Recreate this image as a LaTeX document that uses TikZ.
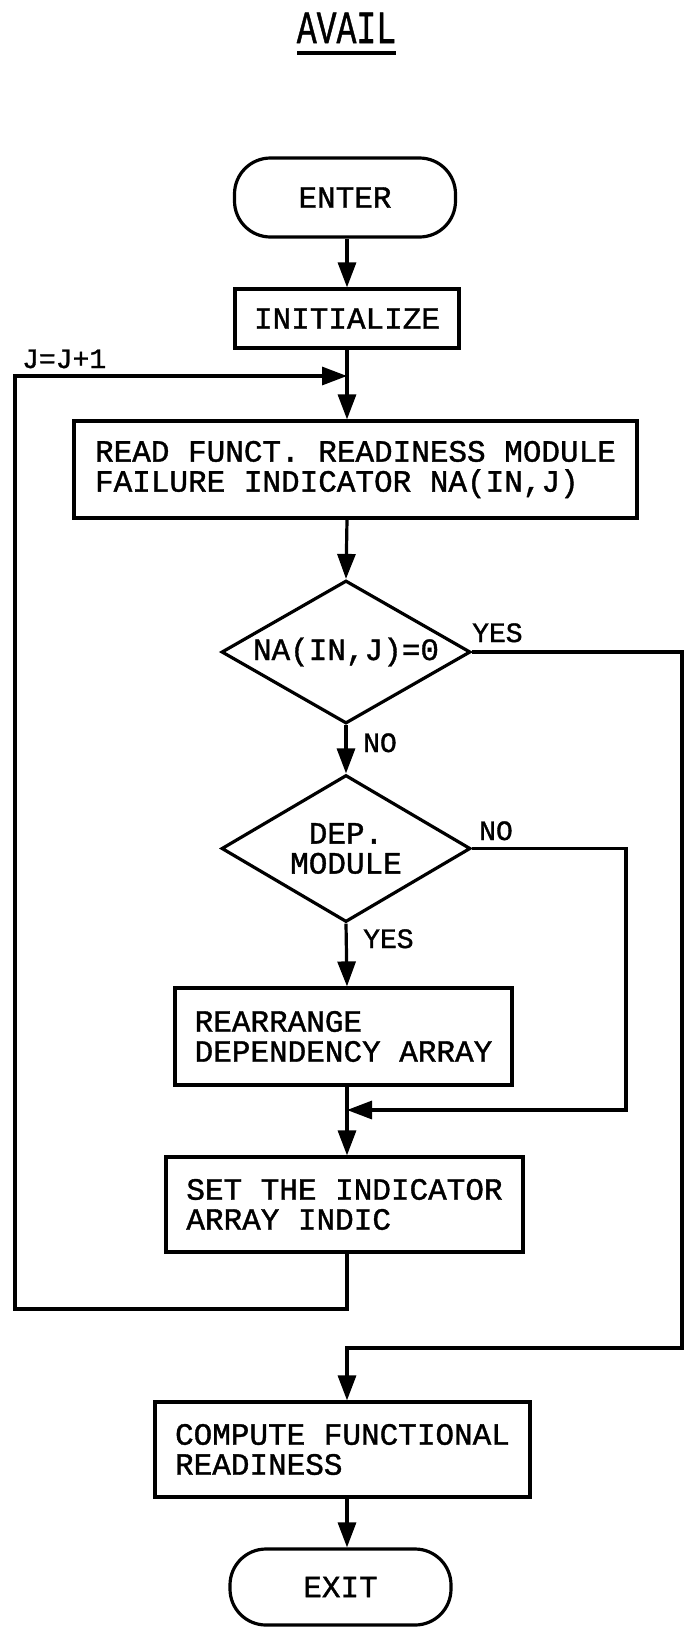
\documentclass[tikz,border=0pt]{standalone}
\usepackage{fontspec}
\newfontfamily\monof[FakeBold=1.2]{Liberation Mono}
\usetikzlibrary{shapes.geometric,arrows.meta}
\newcommand\boxfont{\monof\fontsize{31}{30}\selectfont}
\newcommand\lblfont{\monof\fontsize{28}{28}\selectfont}
\newcommand\titlefont{\monof\fontsize{46}{46}\selectfont}
\begin{document}
\begin{tikzpicture}[x=1pt,y=-1pt,
  ln/.style={line width=3.2pt},
  proc/.style={draw,ln,rectangle,inner sep=0pt,align=left,font=\boxfont},
  term/.style={draw,ln,rectangle,rounded corners=36pt,inner sep=0pt,font=\boxfont},
  dec/.style={draw,ln,diamond,shape aspect=1.74,inner sep=0pt,align=center,font=\boxfont},
  lbl/.style={font=\lblfont,inner sep=0pt,anchor=base west},
  arr/.style={ln,-{Triangle[length=25pt,width=18pt]}}]
\useasboundingbox (0,0) rectangle (686,1628);
\fill[white] (0,0) rectangle (686,1628);
\coordinate (ax) at (347,0);

% title
\node[anchor=base,inner sep=0pt] (title) at (346.5,43) {\titlefont\scalebox{0.72}[1]{AVAIL}};
\draw[ln] (297,53) -- (396,53);

% nodes
\node[term,minimum width=221pt,minimum height=79pt] (enter) at (345,197.5) {ENTER};
\node[proc,minimum width=224pt,minimum height=59pt] (init) at (347,318.5) {INITIALIZE};
\node[proc,minimum width=563pt,minimum height=97pt] (read) at (355.5,469.5) {READ FUNCT. READINESS MODULE\\FAILURE INDICATOR NA(IN,J)};
\node[dec,minimum width=249pt,minimum height=143pt] (d1) at (346,652) {NA(IN,J)=0};
\node[dec,minimum width=249pt,minimum height=147pt] (d2) at (346,848.5) {DEP.\\MODULE};
\node[proc,minimum width=337pt,minimum height=97pt] (rearr) at (343.5,1036.5) {REARRANGE\\DEPENDENCY ARRAY};
\node[proc,minimum width=357pt,minimum height=95pt] (set) at (344.5,1204.5) {SET THE INDICATOR\\ARRAY INDIC};
\node[proc,minimum width=375pt,minimum height=95pt] (comp) at (342.5,1449.5) {COMPUTE FUNCTIONAL\\READINESS};
\node[term,minimum width=221pt,minimum height=76pt] (exit) at (340.5,1587) {EXIT};

% labels
\node[lbl] (jlab) at (22,368) {J=J+1};
\node[lbl] (y1) at (472,642) {YES};
\node[lbl] (n1) at (363,752) {NO};
\node[lbl] (n2) at (479,840) {NO};
\node[lbl] (y2) at (363,948) {YES};

% helper coordinates
\coordinate (jn) at (347,376);
\coordinate (mg) at (347,1110);
\coordinate (nr) at (626,1110);
\coordinate (lb) at (15,1309);
\coordinate (rt) at (682,1348);
\coordinate (cj) at (347,1348);

% connectors
\draw[arr] (enter.south -| ax) -- (init.north -| ax);
\draw[arr] (init.south -| ax) -- (read.north -| ax);
\draw[arr] (read.south -| ax) -- (d1.north);
\draw[arr] (d1.south) -- (d2.north);
\draw[arr] (d2.south) -- (rearr.north -| ax);
\draw[ln] (rearr.south -| ax) -- (mg);
\draw[arr] (mg) -- (set.north -| ax);
\draw[arr] (d2.east) -| (nr) -- (mg);
\draw[arr] (set.south -| ax) |- (lb) |- (jn);
\draw[arr] (d1.east) -| (rt) -- (cj) -- (comp.north -| ax);
\draw[arr] (comp.south -| ax) -- (exit.north -| ax);
\end{tikzpicture}
\end{document}
